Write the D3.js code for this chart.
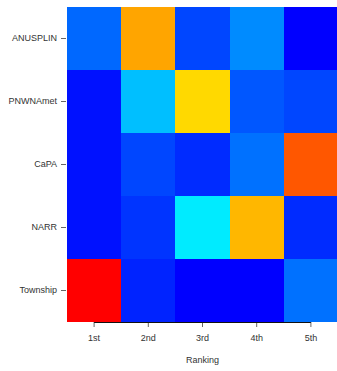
<!DOCTYPE html>
<html>
<head>
<meta charset="utf-8">
<script src="https://cdn.jsdelivr.net/npm/d3@7"></script>
<style>
  html, body { margin: 0; padding: 0; background: #fff; }
  svg { display: block; }
  text { font-family: "Liberation Sans", Arial, sans-serif; fill: #333; }
</style>
</head>
<body>
<svg id="chart" width="337" height="371"></svg>
<script>
// Number of stations at which each product reached each rank
const products = ["ANUSPLIN", "PNWNAmet", "CaPA", "NARR", "Township"];
const ranks = ["1st", "2nd", "3rd", "4th", "5th"];
const anusplin = [12, 69, 8, 16, 0];
const pnwnamet = [2, 22, 63, 10, 8];
const capa = [2, 8, 5, 13, 78];
const narr = [2, 6, 27, 67, 5];
const township = [88, 4, 0, 0, 13];
const rows = [anusplin, pnwnamet, capa, narr, township];

const cells = [];
rows.forEach((vals, i) => vals.forEach((v, j) => cells.push({ product: products[i], rank: ranks[j], value: v })));

const svg = d3.select("#chart");
const margin = { left: 67, right: -1, top: 7, bottom: 49 };
const W = 337, H = 371;

const x = d3.scaleBand().domain(ranks).range([margin.left, W - margin.right]).padding(0);
const y = d3.scaleBand().domain(products).range([margin.top, H - margin.bottom]).padding(0);

const maxV = d3.max(cells, d => d.value);
const color = d3.scaleLinear()
  .domain([0, maxV / 3, 2 * maxV / 3, maxV])
  .range(["#0000ff", "#00ffff", "#ffff00", "#ff0000"])
  .interpolate(d3.interpolateRgb);

svg.append("g").selectAll("rect")
  .data(cells)
  .join("rect")
  .attr("x", d => x(d.rank))
  .attr("y", d => y(d.product))
  .attr("width", x.bandwidth())
  .attr("height", y.bandwidth())
  .attr("fill", d => color(d.value))
  .attr("shape-rendering", "crispEdges");

// Bottom axis: line spans first to last tick
const xAxis = d3.axisBottom(x).tickSize(5).tickPadding(8);
const gx = svg.append("g").attr("transform", `translate(0,${H - margin.bottom})`).call(xAxis);
gx.select(".domain").remove();
gx.selectAll(".tick line").attr("stroke", "#666");
gx.selectAll(".tick text").attr("font-size", 9).style("fill", "#333");
const first = x(ranks[0]) + x.bandwidth() / 2, last = x(ranks[ranks.length - 1]) + x.bandwidth() / 2;
gx.append("line").attr("x1", first).attr("x2", last).attr("y1", 0.5).attr("y2", 0.5)
  .attr("stroke", "#111").attr("stroke-width", 1);

// Left axis: ticks only
const yAxis = d3.axisLeft(y).tickSize(5).tickPadding(4);
const gy = svg.append("g").attr("transform", `translate(${margin.left - 1},0)`).call(yAxis);
gy.select(".domain").remove();
gy.selectAll(".tick line").attr("stroke", "#666");
gy.selectAll(".tick text").attr("font-size", 9).style("fill", "#333");

svg.append("text")
  .attr("x", (margin.left + W - margin.right) / 2)
  .attr("y", 363)
  .attr("text-anchor", "middle")
  .attr("font-size", 9)
  .text("Ranking");
</script>
</body>
</html>
